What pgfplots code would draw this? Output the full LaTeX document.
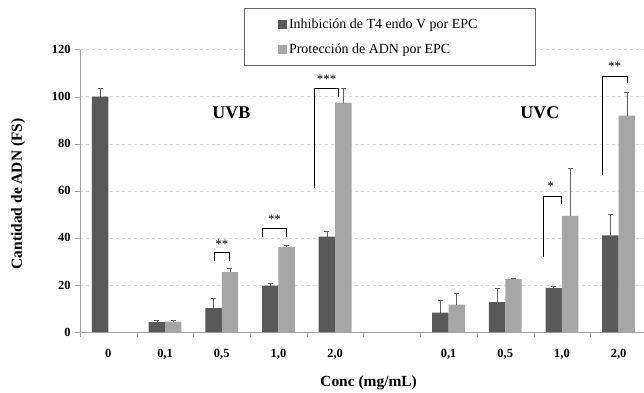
\documentclass[border=0pt]{standalone}
\usepackage{fontspec}
\setmainfont{Liberation Serif}
\usepackage{pgfplots}
\pgfplotsset{compat=1.18}
\definecolor{darkbar}{HTML}{595959}
\definecolor{lightbar}{HTML}{A6A6A6}
\definecolor{gridc}{HTML}{D9D9D9}
\definecolor{axisc}{HTML}{A0A0A0}
\begin{document}
\begin{tikzpicture}[x=1bp,y=1bp]
\useasboundingbox (0,0) rectangle (644,392);
\begin{axis}[
  at={(80bp,60bp)}, anchor=south west,
  scale only axis, width=567bp, height=282.4bp,
  ybar,
  xmin=-0.5, xmax=9.5, ymin=0, ymax=120,
  axis lines*=left,
  axis line style={draw=axisc, -},
  ytick={0,20,...,120},
  ymajorgrids, grid style={draw=gridc, dashed},
  major tick length=5bp,
  tick align=outside,
  ytick style={draw=axisc},
  xtick={0,1,2,3,4,6,7,8,9},
  xtick style={draw=none},
  xticklabels={0,{0,1},{0,5},{1,0},{2,0},{0,1},{0,5},{1,0},{2,0}},
  extra x ticks={-0.5,0.5,1.5,2.5,3.5,4.5,5.5,6.5,7.5,8.5,9.5},
  extra x tick labels={},
  extra x tick style={xtick style={draw=axisc}, xmajorgrids=false},
  /pgf/number format/assume math mode=true,
  xticklabel style={font=\bfseries\fontsize{12.5}{14}\selectfont, yshift=-9bp},
  yticklabel style={font=\bfseries\fontsize{12.5}{14}\selectfont, xshift=-1bp},
  ylabel={Cantidad de ADN (FS)},
  ylabel style={font=\bfseries\fontsize{15.5}{17}\selectfont, at={(axis description cs:-0.109,0.489)}, anchor=center},
  xlabel={Conc (mg/mL)},
  xlabel style={font=\bfseries\fontsize{15.5}{17}\selectfont, at={(axis description cs:0.509,-0.18)}, anchor=center},
  legend style={draw=gray!80!black, at={(axis description cs:0.289,1.147)}, anchor=north west,
    font=\fontsize{14}{16}\selectfont, inner xsep=34bp, inner ysep=9bp, row sep=9bp, cells={anchor=west}},
  legend image code/.code={\fill[#1] (0bp,-4.5bp) rectangle (9bp,4.5bp);},
  bar width=0.29,
  error bars/error bar style={draw=gray!75!black, line width=0.6pt},
  error bars/error mark options={rotate=90, mark size=2.5bp, draw=gray!75!black, line width=0.6pt},
]
\addplot[bar shift=-0.145, fill=darkbar, draw=none,
  error bars/.cd, y dir=plus, y explicit]
  coordinates {
  (0,100) +- (0,3.7)
  (1,4.25) +- (0,0.6)
  (2,10.2) +- (0,4.1)
  (3,19.7) +- (0,1.1)
  (4,40.5) +- (0,2.4)
  (6,8.2) +- (0,5.3)
  (7,12.7) +- (0,5.9)
  (8,18.6) +- (0,0.9)
  (9,41.1) +- (0,9.0)
  };
\addlegendentry{Inhibición de T4 endo V por EPC\rule{22bp}{0pt}}
\addplot[bar shift=0.145, fill=lightbar, draw=none,
  error bars/.cd, y dir=plus, y explicit]
  coordinates {
  (1,4.4) +- (0,0.5)
  (2,25.4) +- (0,1.7)
  (3,36.1) +- (0,0.6)
  (4,97.5) +- (0,6.2)
  (6,11.6) +- (0,4.8)
  (7,22.5) +- (0,0.4)
  (8,49.3) +- (0,20.3)
  (9,91.9) +- (0,10.1)
  };
\addlegendentry{Protección de ADN por EPC}
% significance brackets
\draw[black, line width=0.6pt] (axis cs:1.86,30)--(axis cs:1.86,33.9)--(axis cs:2.14,33.9)--(axis cs:2.14,30);
\node[font=\fontsize{13}{14}\selectfont] at (axis cs:2.0,37.2) {**};
\draw[black, line width=0.6pt] (axis cs:2.72,40.5)--(axis cs:2.72,43.9)--(axis cs:3.14,43.9)--(axis cs:3.14,40.5);
\node[font=\fontsize{13}{14}\selectfont] at (axis cs:2.93,47.8) {**};
\draw[black, line width=0.6pt] (axis cs:3.64,61.3)--(axis cs:3.64,103.4)--(axis cs:4.05,103.4)--(axis cs:4.05,100);
\node[font=\fontsize{13}{14}\selectfont] at (axis cs:3.85,107.5) {***};
\draw[black, line width=0.6pt] (axis cs:7.67,32)--(axis cs:7.67,57.8)--(axis cs:7.98,57.8)--(axis cs:7.98,54.4);
\node[font=\fontsize{13}{14}\selectfont] at (axis cs:7.8,61.8) {*};
\draw[black, line width=0.6pt] (axis cs:8.72,66.7)--(axis cs:8.72,108.8)--(axis cs:9.15,108.8)--(axis cs:9.15,105.7);
\node[font=\fontsize{13}{14}\selectfont] at (axis cs:8.93,112.8) {**};
\node[font=\bfseries\fontsize{18}{20}\selectfont] at (axis cs:2.17,93) {UVB};
\node[font=\bfseries\fontsize{18}{20}\selectfont] at (axis cs:7.61,93) {UVC};
\end{axis}
\end{tikzpicture}
\end{document}
